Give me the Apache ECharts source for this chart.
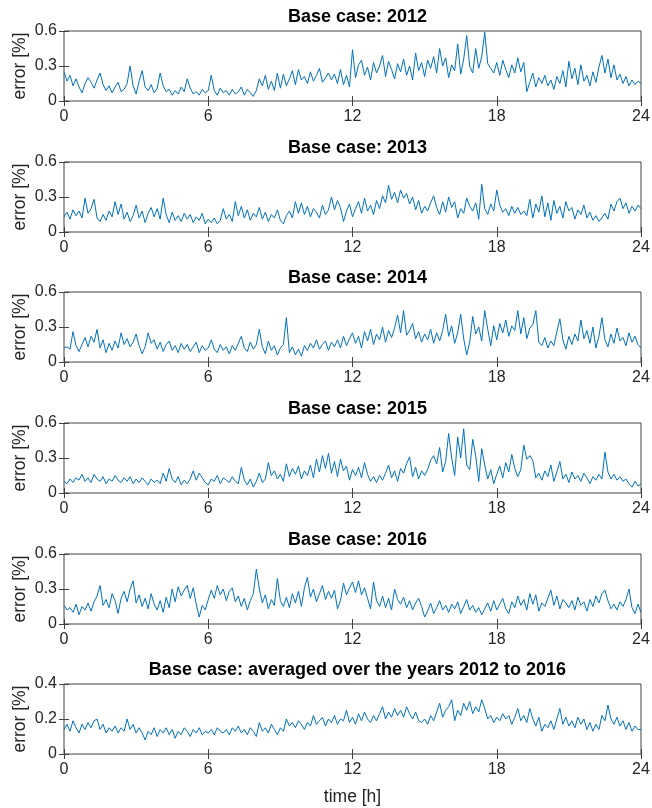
<!DOCTYPE html>
<html>
<head>
<meta charset="utf-8">
<script src="https://cdn.jsdelivr.net/npm/echarts@6/dist/echarts.min.js"></script>
<style>
  html, body { margin: 0; padding: 0; background: #fff; }
  #chart { width: 652px; height: 808px; }
</style>
</head>
<body>
<div id="chart"></div>
<script>
// one sample every 0.125 h (7.5 min), 0..24 h
var STEP = 0.125;

var titles = [
  'Base case: 2012',
  'Base case: 2013',
  'Base case: 2014',
  'Base case: 2015',
  'Base case: 2016',
  'Base case: averaged over the years 2012 to 2016'
];

var yMax = [0.6, 0.6, 0.6, 0.6, 0.6, 0.4];
var yStep = [0.3, 0.3, 0.3, 0.3, 0.3, 0.2];
var xTicks = [0, 6, 12, 18, 24];

var err2012 = [
  0.25, 0.17, 0.22, 0.13, 0.19, 0.12, 0.07, 0.15, 0.20,
  0.16, 0.11, 0.18, 0.24, 0.14, 0.09, 0.13, 0.07,
  0.12, 0.16, 0.08, 0.10, 0.15, 0.30, 0.13, 0.06,
  0.17, 0.26, 0.12, 0.09, 0.14, 0.07, 0.11, 0.24,
  0.13, 0.08, 0.10, 0.05, 0.09, 0.06, 0.12, 0.08,
  0.19, 0.11, 0.06, 0.08, 0.05, 0.10, 0.07, 0.09,
  0.22, 0.09, 0.05, 0.11, 0.07, 0.09, 0.05, 0.10,
  0.06, 0.08, 0.12, 0.05, 0.10, 0.07, 0.04, 0.09,
  0.19, 0.13, 0.22, 0.10, 0.17, 0.09, 0.24, 0.11,
  0.23, 0.13, 0.19, 0.26, 0.14, 0.27, 0.18, 0.21,
  0.15, 0.25, 0.17, 0.22, 0.28, 0.16, 0.20, 0.24,
  0.18, 0.23, 0.15, 0.27, 0.14, 0.22, 0.12, 0.44,
  0.20, 0.31, 0.35, 0.22, 0.29, 0.18, 0.33, 0.24,
  0.30, 0.39, 0.21, 0.34, 0.27, 0.19, 0.32, 0.25,
  0.36, 0.22, 0.30, 0.18, 0.41, 0.26, 0.33, 0.21,
  0.35, 0.28, 0.38, 0.24, 0.45, 0.30, 0.37, 0.20,
  0.31, 0.26, 0.49, 0.23, 0.36, 0.56, 0.30, 0.24,
  0.45, 0.28, 0.38, 0.59, 0.32, 0.28, 0.24, 0.33,
  0.22, 0.35, 0.27, 0.20, 0.31, 0.24, 0.37, 0.25,
  0.33, 0.08, 0.16, 0.24, 0.12, 0.20, 0.15, 0.22,
  0.13, 0.18, 0.10, 0.21, 0.15, 0.26, 0.12, 0.34,
  0.19, 0.28, 0.14, 0.31, 0.17, 0.22, 0.13, 0.25,
  0.16, 0.29, 0.39, 0.24, 0.36, 0.20, 0.31, 0.18,
  0.23, 0.15, 0.21, 0.13, 0.18, 0.14, 0.17, 0.15
];

var err2013 = [
  0.13, 0.17, 0.11, 0.19, 0.14, 0.18, 0.12, 0.29, 0.16,
  0.20, 0.28, 0.12, 0.09, 0.15, 0.10, 0.18, 0.13,
  0.26, 0.15, 0.24, 0.11, 0.17, 0.09, 0.14, 0.23,
  0.12, 0.18, 0.08, 0.16, 0.21, 0.13, 0.20, 0.11,
  0.29, 0.15, 0.08, 0.17, 0.10, 0.14, 0.09, 0.16,
  0.11, 0.15, 0.08, 0.13, 0.10, 0.16, 0.07, 0.11,
  0.08, 0.12, 0.07, 0.10, 0.20, 0.11, 0.15, 0.09,
  0.26, 0.14, 0.22, 0.12, 0.19, 0.10, 0.16, 0.13,
  0.21, 0.11, 0.17, 0.09, 0.15, 0.12, 0.19, 0.10,
  0.07, 0.14, 0.18, 0.12, 0.26, 0.16, 0.25, 0.15,
  0.22, 0.13, 0.20, 0.17, 0.12, 0.23, 0.15, 0.19,
  0.30, 0.19, 0.27, 0.21, 0.09, 0.18, 0.24, 0.13,
  0.20, 0.26, 0.16, 0.29, 0.18, 0.23, 0.15, 0.27,
  0.20, 0.31, 0.25, 0.40, 0.28, 0.34, 0.25, 0.36,
  0.29, 0.33, 0.24, 0.30, 0.19, 0.27, 0.16, 0.22,
  0.18, 0.25, 0.31, 0.21, 0.15, 0.26, 0.17, 0.30,
  0.21, 0.26, 0.12, 0.20, 0.16, 0.29, 0.22, 0.18,
  0.25, 0.11, 0.41, 0.20, 0.15, 0.24, 0.18, 0.36,
  0.23, 0.17, 0.20, 0.14, 0.22, 0.16, 0.21, 0.15,
  0.18, 0.14, 0.28, 0.12, 0.24, 0.17, 0.31, 0.13,
  0.25, 0.10, 0.27, 0.16, 0.22, 0.12, 0.26, 0.18,
  0.21, 0.11, 0.19, 0.15, 0.23, 0.12, 0.17, 0.10,
  0.14, 0.09, 0.12, 0.16, 0.11, 0.24, 0.18, 0.26,
  0.29, 0.20, 0.25, 0.16, 0.22, 0.18, 0.23, 0.20
];

var err2014 = [
  0.12, 0.13, 0.11, 0.26, 0.14, 0.09, 0.15, 0.21, 0.13,
  0.22, 0.17, 0.28, 0.12, 0.19, 0.08, 0.16, 0.10,
  0.18, 0.12, 0.25, 0.15, 0.20, 0.13, 0.17, 0.24,
  0.14, 0.07, 0.13, 0.25, 0.16, 0.19, 0.11, 0.17,
  0.09, 0.15, 0.18, 0.10, 0.14, 0.08, 0.16, 0.11,
  0.15, 0.09, 0.13, 0.17, 0.08, 0.14, 0.10, 0.12,
  0.19, 0.11, 0.08, 0.15, 0.10, 0.13, 0.07, 0.14,
  0.10, 0.16, 0.22, 0.12, 0.09, 0.17, 0.11, 0.15,
  0.28, 0.13, 0.07, 0.18, 0.10, 0.14, 0.06, 0.12,
  0.15, 0.38, 0.08, 0.13, 0.06, 0.11, 0.05, 0.14,
  0.10, 0.16, 0.12, 0.19, 0.11, 0.15, 0.18, 0.10,
  0.17, 0.13, 0.19, 0.12, 0.22, 0.14, 0.20, 0.25,
  0.16, 0.22, 0.12, 0.26, 0.18, 0.28, 0.15, 0.24,
  0.19, 0.30, 0.17, 0.27, 0.21, 0.29, 0.40, 0.25,
  0.44, 0.23, 0.27, 0.33, 0.20, 0.26, 0.17, 0.24,
  0.19, 0.28, 0.16, 0.25, 0.18, 0.27, 0.41, 0.22,
  0.31, 0.16, 0.25, 0.41, 0.20, 0.06, 0.17, 0.39,
  0.24, 0.30, 0.18, 0.44, 0.28, 0.14, 0.31, 0.19,
  0.33, 0.25, 0.36, 0.22, 0.31, 0.27, 0.44, 0.24,
  0.38, 0.20, 0.29, 0.32, 0.44, 0.17, 0.14, 0.21,
  0.12, 0.18, 0.14, 0.26, 0.37, 0.19, 0.11, 0.22,
  0.15, 0.24, 0.18, 0.36, 0.20, 0.27, 0.16, 0.30,
  0.12, 0.22, 0.38, 0.19, 0.13, 0.24, 0.16, 0.29,
  0.18, 0.21, 0.14, 0.25, 0.17, 0.22, 0.15, 0.12
];

var err2015 = [
  0.10, 0.08, 0.12, 0.09, 0.13, 0.11, 0.16, 0.10, 0.13,
  0.09, 0.16, 0.12, 0.10, 0.14, 0.08, 0.12, 0.10,
  0.15, 0.11, 0.09, 0.13, 0.10, 0.14, 0.08, 0.12,
  0.09, 0.13, 0.10, 0.07, 0.12, 0.09, 0.11, 0.08,
  0.17, 0.10, 0.21, 0.12, 0.09, 0.14, 0.07, 0.11,
  0.08, 0.12, 0.19, 0.11, 0.17, 0.13, 0.09, 0.07,
  0.12, 0.10, 0.15, 0.08, 0.13, 0.11, 0.09, 0.14,
  0.10, 0.08, 0.22, 0.11, 0.07, 0.12, 0.05, 0.10,
  0.17, 0.09, 0.12, 0.26, 0.15, 0.19, 0.12, 0.16,
  0.10, 0.25, 0.14, 0.21, 0.16, 0.23, 0.12, 0.19,
  0.15, 0.24, 0.13, 0.29, 0.18, 0.32, 0.21, 0.34,
  0.17, 0.27, 0.14, 0.29, 0.19, 0.23, 0.11, 0.20,
  0.15, 0.22, 0.13, 0.26, 0.16, 0.10, 0.14, 0.09,
  0.15, 0.11, 0.17, 0.24, 0.13, 0.19, 0.10, 0.21,
  0.17, 0.25, 0.31, 0.14, 0.22, 0.12, 0.19, 0.15,
  0.20, 0.28, 0.32, 0.25, 0.39, 0.18, 0.27, 0.51,
  0.30, 0.15, 0.48, 0.30, 0.55, 0.24, 0.20, 0.46,
  0.32, 0.10, 0.38, 0.24, 0.12, 0.20, 0.08, 0.16,
  0.23, 0.13, 0.26, 0.18, 0.33, 0.21, 0.14, 0.20,
  0.41, 0.29, 0.32, 0.28, 0.13, 0.17, 0.11, 0.19,
  0.14, 0.24, 0.10, 0.18, 0.27, 0.12, 0.16, 0.09,
  0.18, 0.12, 0.15, 0.10, 0.17, 0.13, 0.08, 0.14,
  0.11, 0.16, 0.12, 0.35, 0.18, 0.12, 0.16, 0.11,
  0.14, 0.10, 0.12, 0.08, 0.05, 0.10, 0.06, 0.08
];

var err2016 = [
  0.16, 0.12, 0.14, 0.10, 0.17, 0.08, 0.15, 0.12, 0.18,
  0.11, 0.19, 0.24, 0.33, 0.16, 0.21, 0.14, 0.26,
  0.20, 0.09, 0.22, 0.28, 0.19, 0.30, 0.37, 0.18,
  0.25, 0.15, 0.22, 0.13, 0.26, 0.17, 0.12, 0.20,
  0.10, 0.23, 0.14, 0.30, 0.19, 0.32, 0.24, 0.29,
  0.33, 0.22, 0.31, 0.17, 0.06, 0.16, 0.12, 0.21,
  0.29, 0.22, 0.33, 0.25, 0.30, 0.20, 0.28, 0.31,
  0.19, 0.24, 0.15, 0.22, 0.12, 0.20, 0.26, 0.47,
  0.30, 0.18, 0.25, 0.13, 0.21, 0.16, 0.39, 0.20,
  0.15, 0.23, 0.14, 0.26, 0.18, 0.28, 0.15, 0.31,
  0.40, 0.23, 0.30, 0.19, 0.26, 0.33, 0.21, 0.28,
  0.22, 0.29, 0.13, 0.20, 0.35, 0.25, 0.31, 0.36,
  0.27, 0.37, 0.25, 0.31, 0.22, 0.13, 0.36, 0.20,
  0.15, 0.24, 0.14, 0.22, 0.12, 0.30, 0.21, 0.17,
  0.23, 0.14, 0.20, 0.12, 0.18, 0.22, 0.15, 0.06,
  0.11, 0.18, 0.09, 0.14, 0.20, 0.12, 0.16, 0.10,
  0.17, 0.13, 0.19, 0.09, 0.15, 0.21, 0.12, 0.16,
  0.10, 0.14, 0.08, 0.13, 0.18, 0.11, 0.20, 0.12,
  0.17, 0.22, 0.13, 0.09, 0.19, 0.14, 0.24, 0.16,
  0.21, 0.12, 0.26, 0.17, 0.25, 0.11, 0.18, 0.15,
  0.22, 0.29, 0.16, 0.24, 0.13, 0.21, 0.18, 0.14,
  0.20, 0.12, 0.23, 0.16, 0.19, 0.11, 0.21, 0.15,
  0.24, 0.18, 0.26, 0.29, 0.20, 0.13, 0.17, 0.12,
  0.19, 0.15, 0.21, 0.30, 0.14, 0.09, 0.17, 0.10
];

var errAvg = [
  0.14, 0.17, 0.13, 0.19, 0.15, 0.12, 0.17, 0.14, 0.18,
  0.15, 0.19, 0.20, 0.14, 0.17, 0.12, 0.15, 0.13,
  0.16, 0.12, 0.15, 0.13, 0.20, 0.14, 0.17, 0.12,
  0.15, 0.12, 0.08, 0.13, 0.11, 0.15, 0.10, 0.14,
  0.12, 0.15, 0.11, 0.14, 0.09, 0.13, 0.11, 0.15,
  0.13, 0.10, 0.14, 0.12, 0.15, 0.11, 0.13, 0.12,
  0.14, 0.11, 0.15, 0.13, 0.12, 0.14, 0.11, 0.15,
  0.13, 0.16, 0.12, 0.14, 0.11, 0.15, 0.13, 0.10,
  0.18, 0.13, 0.15, 0.12, 0.17, 0.14, 0.11, 0.15,
  0.13, 0.20, 0.16, 0.18, 0.15, 0.19, 0.17, 0.14,
  0.18, 0.16, 0.22, 0.17, 0.19, 0.21, 0.16, 0.20,
  0.18, 0.22, 0.17, 0.20, 0.19, 0.25, 0.18, 0.21,
  0.17, 0.23, 0.19, 0.24, 0.20, 0.18, 0.22, 0.19,
  0.23, 0.27, 0.20, 0.24, 0.21, 0.26, 0.22, 0.25,
  0.21, 0.27, 0.23, 0.20, 0.24, 0.19, 0.18, 0.20,
  0.17, 0.22, 0.19, 0.24, 0.29, 0.21, 0.25, 0.27,
  0.31, 0.19, 0.25, 0.22, 0.29, 0.25, 0.30, 0.23,
  0.27, 0.24, 0.31, 0.26, 0.20, 0.22, 0.18, 0.21,
  0.19, 0.23, 0.20, 0.22, 0.17, 0.21, 0.26, 0.19,
  0.22, 0.18, 0.26, 0.20, 0.16, 0.21, 0.13, 0.17,
  0.15, 0.19, 0.14, 0.20, 0.26, 0.17, 0.21, 0.16,
  0.19, 0.15, 0.21, 0.17, 0.20, 0.14, 0.18, 0.13,
  0.17, 0.14, 0.22, 0.19, 0.28, 0.20, 0.17, 0.21,
  0.16, 0.19, 0.14, 0.18, 0.13, 0.16, 0.14, 0.14
];

var panels = [err2012, err2013, err2014, err2015, err2016, errAvg];

var FONT = 'Liberation Sans, Arial, sans-serif';
var AXIS_COL = '#404040';
var LINE_COL = '#0072BD';
var plotLeft = 64, plotRight = 11, plotH = 70;
var tops = [31, 162, 292, 423, 554, 684];

var option = {
  animation: false,
  backgroundColor: '#fff',
  title: [], grid: [], xAxis: [], yAxis: [], series: []
};

panels.forEach(function (vals, i) {
  var pts = vals.map(function (v, k) { return [k * STEP, v]; });
  var last = i === panels.length - 1;

  option.title.push({
    text: titles[i],
    left: plotLeft + (652 - plotLeft - plotRight) / 2,
    top: tops[i] - 28,
    textAlign: 'center',
    textStyle: { fontFamily: FONT, fontSize: 18, fontWeight: 'bold', color: '#000' }
  });

  option.grid.push({
    left: plotLeft, right: plotRight, top: tops[i], height: plotH,
    containLabel: false, outerBoundsMode: 'none',
    show: true, borderColor: AXIS_COL, borderWidth: 1
  });

  //bottom axis with labels
  option.xAxis.push({
    type: 'value', gridIndex: i, min: 0, max: 24, interval: 6,
    axisLine: { show: false },
    axisTick: { inside: true, length: 5, lineStyle: { color: AXIS_COL } },
    axisLabel: { margin: 8, fontFamily: FONT, fontSize: 16, color: '#262626' },
    splitLine: { show: false },
    name: last ? 'time [h]' : '',
    nameLocation: 'middle', nameGap: 34, nameMoveOverlap: false,
    nameTextStyle: { fontFamily: FONT, fontSize: 17.5, color: '#262626' }
  });
  //mirrored ticks on top
  option.xAxis.push({
    type: 'value', gridIndex: i, position: 'top', min: 0, max: 24, interval: 6,
    axisLine: { show: false },
    axisTick: { inside: true, length: 5, lineStyle: { color: AXIS_COL } },
    axisLabel: { show: false }, splitLine: { show: false }
  });

  option.yAxis.push({
    type: 'value', gridIndex: i, min: 0, max: yMax[i], interval: yStep[i],
    axisLine: { show: false },
    axisTick: { inside: true, length: 5, lineStyle: { color: AXIS_COL } },
    axisLabel: { margin: 7, fontFamily: FONT, fontSize: 16, color: '#262626' },
    splitLine: { show: false },
    name: 'error [%]', nameLocation: 'middle', nameGap: 35, nameMoveOverlap: false,
    nameTextStyle: { fontFamily: FONT, fontSize: 17.5, color: '#262626' }
  });
  option.yAxis.push({
    type: 'value', gridIndex: i, position: 'right', min: 0, max: yMax[i], interval: yStep[i],
    axisLine: { show: false },
    axisTick: { inside: true, length: 5, lineStyle: { color: AXIS_COL } },
    axisLabel: { show: false }, splitLine: { show: false }
  });

  option.series.push({
    type: 'line', xAxisIndex: i * 2, yAxisIndex: i * 2,
    data: pts, showSymbol: false, silent: true,
    lineStyle: { color: LINE_COL, width: 1 }
  });
});

var chart = echarts.init(document.getElementById('chart'), null, { renderer: 'canvas' });
chart.setOption(option);
</script>
</body>
</html>
